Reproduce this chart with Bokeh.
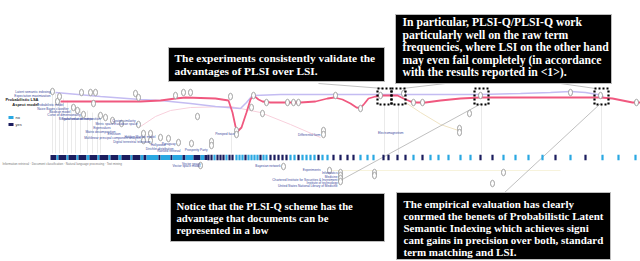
from bokeh.plotting import figure
from bokeh.models import Range1d
from bokeh.core.properties import value
from bokeh.embed import file_html
from bokeh.resources import INLINE

# ---------------- data ----------------
# main score line (pink) and comparison line (lavender)
pink_x = [60, 100, 140, 160, 175, 185, 200, 215, 228, 232, 235, 237, 241, 246, 250, 253, 258, 262, 270, 285, 300, 315, 327, 334, 342, 350, 356, 360, 364, 368, 375, 383, 390, 397, 403, 410, 416, 425, 440, 460, 480, 520, 560, 600, 612, 622, 632, 640]
pink_y = [101, 101, 101, 100, 98, 97, 97.5, 98, 100, 112, 126, 131, 127, 112, 99, 95, 99, 101, 102, 102, 102, 101, 98, 97, 99, 103, 107, 107.5, 103, 98, 96, 95, 95, 95, 98, 101, 102, 102, 100, 98, 97, 97, 97, 97, 98, 100, 102, 102]
lav_x = [55, 100, 140, 160, 190, 215, 240, 246, 252, 280, 320, 380, 440, 480, 520, 550, 570, 585, 597, 603]
lav_y = [92, 96, 99, 100, 103, 106, 108, 102, 95, 94, 94, 94, 94, 94, 93, 92, 91, 92, 94, 96]
faint_x = [140, 155, 170, 190, 230, 260, 290, 320]
faint_y = [126, 116, 110, 107, 106, 112, 124, 137]
beige_x = [405, 420, 440, 458]
beige_y = [102, 112, 124, 130]

# document nodes (capsules)
node_x = [52, 57, 59, 81, 90, 95, 93, 135, 138, 73, 77, 83, 100, 105, 112, 121, 138, 143, 150,
          175, 183, 190, 230, 236, 236, 253, 251, 262, 266, 287, 293, 298, 335, 360, 197, 323, 323,
          143, 150, 160, 168, 178, 191, 211, 211,
          380, 403, 413, 422, 480, 469, 459, 459, 570, 600, 636,
          200, 283, 329, 340, 340, 340, 340, 374, 374, 503, 492]
node_y = [91, 101, 96, 92, 92, 92, 103, 93, 97, 107, 110, 114, 115, 117, 120, 123, 124, 140, 140,
          95, 92, 92, 96, 130, 134, 95, 107, 113, 102, 102, 102, 102, 95, 108, 116, 130, 134,
          133, 133, 137, 138, 142, 143, 141, 145,
          95, 93, 102, 102, 95, 113, 128, 132, 92, 95, 102,
          165, 166, 170, 172, 175, 178, 181, 172, 175, 172, 183]

# connector guides
guide_x = [52, 55, 59, 63, 67, 71, 75, 80, 87, 92, 97, 100, 231, 384, 398, 481, 601]
guide_top = [92, 93, 97, 98, 100, 104, 106, 108, 110, 112, 114, 115, 132, 103, 103, 103, 103]

# highlighted documents
hl_x = [384, 398, 481, 601]
hl_y = [96, 96, 96, 96]

# relevance strip: dense part as segments, sparse part as single marks ("yes"=relevant)
dense_left = [50, 56, 58, 66, 68, 76, 78, 86, 89, 97, 99, 108, 110, 118, 121, 130, 132, 140, 143, 146, 158, 160, 170, 172, 182, 185, 193, 200, 204]
dense_right = [56, 58, 66, 68, 76, 78, 86, 89, 97, 99, 108, 110, 118, 121, 130, 132, 140, 143, 146, 158, 160, 170, 172, 182, 185, 193, 200, 204, 207]
dense_rel = ["yes", "no", "yes", "no", "yes", "no", "yes", "no", "yes", "no", "yes", "no", "yes", "no", "yes", "no", "yes", "no", "yes", "no", "yes", "no", "yes", "no", "yes", "no", "yes", "no", "yes"]
sparse_x = [208, 211, 214, 217, 220, 223, 226, 229, 232, 236, 239, 242, 245, 248, 251, 254, 257, 260, 263, 266, 270, 274, 278, 282, 286, 290, 294, 298, 302, 306, 310, 314, 318, 322,
            327, 333, 340, 347, 353, 360, 367, 373, 383, 388, 397, 405, 413, 422, 430, 438, 448, 460, 470, 480, 492, 503, 515, 528, 542, 555, 570, 585, 602, 618, 635]
sparse_rel = ["yes", "yes", "no", "yes", "yes", "yes", "no", "yes", "yes", "no", "no", "no", "yes", "no", "no", "no", "no", "yes", "no", "no", "yes", "yes", "yes", "yes", "yes", "no", "no", "yes", "no", "no", "no", "no", "yes", "no",
              "no", "yes", "yes", "yes", "yes", "no", "no", "no", "yes", "yes", "yes", "yes", "no", "yes", "no", "no", "no", "no", "no", "yes", "yes", "no", "no", "no", "no", "yes", "no", "yes", "no", "no", "no"]

legend_labels = ["no", "yes"]

# concept labels
label_x = [50, 50, 63, 68, 70, 80, 92, 100, 113, 110, 137, 135, 115, 120, 140, 150, 155, 165, 175, 173, 207, 234, 320,
           200, 200, 280, 320, 337, 337, 337, 337, 337, 403, 180]
label_y = [91, 95, 104, 108, 111, 114, 118, 118, 123, 127, 123, 120, 131, 133, 137, 141, 136, 144, 143, 148, 149, 133, 134,
           163, 165.5, 165, 169, 172, 176, 179, 182, 185, 132, 150]
label_text = ["Latent semantic indexing", "Expectation maximization", "Probabilistic model",
              "Naive Bayes classifier", "Boolean model", "Curse of dimensionality", "Transformation matrix",
              "Singular value decomposition", "Metric space", "Eigenvalues", "Euclidean space", "Cosine similarity",
              "Matrix decomposition", "Emission", "Multilinear principal component analysis",
              "Digital terrestrial television", "Hidden Markov model", "Hollywood", "Paraguay", "Dirichlet distribution",
              "Prosperity Party", "Pinniped face", "Differential form",
              "Vector space", "Vector space model", "Bayesian network", "Experiments", "Informatics", "Medicine",
              "Chartered Institute for Securities & Investment", "Institute of technology",
              "United States National Library of Medicine", "Electromagnetism", "Ranked retrieval"]
key_terms = ["Probabilistic LSA", "Aspect model"]
strip_caption = "Information retrieval \u00b7 Document classification \u00b7 Natural language processing \u00b7 Text mining"

note_tl = ["The experiments consistently validate the", "advantages of PLSI over LSI."]
note_tr = ["In particular, PLSI-Q/PLSI-Q work", "particularly well on the raw term",
           "frequencies, where LSI on the other hand", "may even fail completely (in accordance",
           "with the results reported in <1>)."]
note_bl = ["Notice that the PLSI-Q scheme has the", "advantage that documents can be", "represented in a low"]
note_br = ["The empirical evaluation has clearly", "conrmed the benets of Probabilistic Latent",
           "Semantic Indexing which achieves signi", "cant gains in precision over both, standard",
           "term matching and LSI."]

NAVY = "#1b1d5e"
BLUE = "#2aa8e2"
col = {"yes": NAVY, "no": BLUE}

# ---------------- figure ----------------
p = figure(width=640, height=261, x_range=Range1d(0, 640), y_range=Range1d(261, 0),
           output_backend="svg", toolbar_location=None, min_border=0,
           x_axis_location=None, y_axis_location=None)
p.grid.visible = False
p.outline_line_color = None

# guides
p.segment(x0=guide_x, y0=guide_top, x1=guide_x, y1=[153] * len(guide_x), line_color="#e4e4e4", line_width=0.8)

# faint curves
p.line(faint_x, faint_y, line_color="#f8d0dc", line_width=1)
p.line(beige_x, beige_y, line_color="#f0e4c4", line_width=1)
p.line([330, 560], [170, 170], line_color="#f7f3dc", line_width=1)

# leader lines
p.segment(x0=[318, 402, 560, 338, 503], y0=[83, 88, 83, 181, 193],
          x1=[383, 445, 595, 481, 600], y1=[88, 83, 88, 103, 103],
          line_color="#b0b0b0", line_width=0.8)

# lines
p.line(lav_x, lav_y, line_color="#c4bcf2", line_width=1.6)
p.line(pink_x, pink_y, line_color="#f0587f", line_width=1.8)

# nodes
p.ellipse(node_x, node_y, width=4, height=6.5, fill_color="white", line_color="#8c8c8c", line_width=0.8)

# highlight squares
p.rect(hl_x, hl_y, width=14, height=16, fill_color=None, line_color="black", line_width=2.2, line_dash="2 2")

# relevance strip
p.quad(left=dense_left, right=dense_right, top=[154.5] * len(dense_left), bottom=[159.5] * len(dense_left),
       fill_color=[col[r] for r in dense_rel], line_color=None)
p.rect(sparse_x, [157] * len(sparse_x), width=2.2, height=5.5,
       fill_color=[col[r] for r in sparse_rel], line_color=None)

# legend
p.rect([10.5, 10.5], [117, 124], width=5, height=3, fill_color=[BLUE, NAVY], line_color=None)
p.text([15, 15], [117, 124], text=legend_labels, text_font_size="4px", text_baseline="middle",
       text_color="#333333", text_font=value("Liberation Sans"))

# labels
p.text(label_x, label_y, text=label_text, text_font_size="3.2px", text_align="right", text_baseline="middle",
       text_color="#3b4a9e", text_font=value("Liberation Sans"))
p.text([38, 38], [99, 104], text=key_terms, text_font_size="4px", text_align="right", text_baseline="middle",
       text_color="#222222", text_font=value("Liberation Sans"), text_font_style="bold")
p.text([2], [163], text=[strip_caption], text_font_size="3px", text_baseline="middle",
       text_color="#777777", text_font=value("Liberation Sans"))

# annotation boxes
boxes_l = [168, 395, 170, 396]
boxes_r = [384, 611, 384, 610]
boxes_t = [47, 14, 193, 192]
boxes_b = [81, 83, 241, 259]
p.quad(left=boxes_l, right=boxes_r, top=boxes_t, bottom=boxes_b, fill_color="black", line_color="#bdbdbd", line_width=1)


def note(lines, x, y0, dy, size):
    p.text([x] * len(lines), [y0 + i * dy for i in range(len(lines))], text=lines,
           text_font=value("Liberation Serif"), text_font_style="bold", text_font_size=size,
           text_color="white", text_baseline="middle")


note(note_tl, 174, 57.5, 13, "11.4px")
note(note_tr, 402, 22, 12.6, "11.7px")
note(note_bl, 176, 205, 12, "10.7px")
note(note_br, 403, 203, 12, "11px")

open("out.html", "w").write(file_html(p, INLINE))
